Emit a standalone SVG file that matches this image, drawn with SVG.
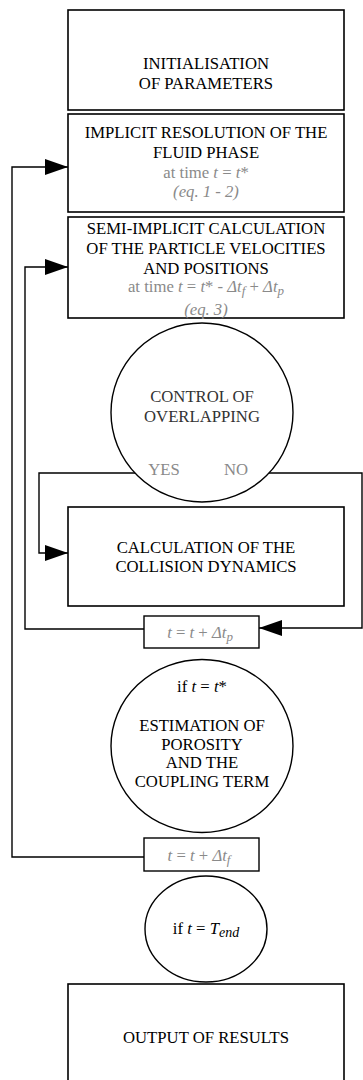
<svg xmlns="http://www.w3.org/2000/svg" width="363" height="1080" viewBox="0 0 363 1080">
<style>
.box{fill:#fff;stroke:#000;stroke-width:1.6}
.sbox{fill:#fff;stroke:#000;stroke-width:1.4}
.circ{fill:#fff;stroke:#000;stroke-width:1.4}
.t{font-family:"Liberation Serif","Times New Roman",serif;font-size:16.7px;fill:#000;text-anchor:middle}
.dk{fill:#333}
.g{fill:#8a8a8a}
.i{font-style:italic}
.con{fill:none;stroke:#000;stroke-width:1.4}
</style>
<defs>
<marker id="ah" markerUnits="userSpaceOnUse" markerWidth="24" markerHeight="18" refX="23" refY="8" orient="auto">
<path d="M0,0 L23,8 L0,16 Z" fill="#000"/>
</marker>
</defs>
<g id="connectors">
<path class="con" d="M144 857 H12 V167 H68" marker-end="url(#ah)"/>
<path class="con" d="M144 629 H25 V267 H68" marker-end="url(#ah)"/>
<path class="con" d="M136 473 H39 V553 H68" marker-end="url(#ah)"/>
<path class="con" d="M268 473 H362 V628 H259" marker-end="url(#ah)"/>
</g>
<g id="init">
<rect class="box" x="68" y="10" width="276" height="100"/>
<text class="t" x="206" y="69">INITIALISATION</text>
<text class="t" x="206" y="89">OF PARAMETERS</text>
</g>
<g id="fluid">
<rect class="box" x="68" y="114" width="276" height="98"/>
<text class="t" x="206" y="138">IMPLICIT RESOLUTION OF THE</text>
<text class="t" x="206" y="158">FLUID PHASE</text>
<text class="t g" x="206" y="178">at time <tspan class="i">t</tspan> = <tspan class="i">t</tspan>*</text>
<text class="t g i" x="206" y="197">(eq. 1 - 2)</text>
</g>
<g id="particles">
<rect class="box" x="68" y="217" width="276" height="101"/>
<text class="t" x="206" y="234">SEMI-IMPLICIT CALCULATION</text>
<text class="t" x="206" y="254">OF THE PARTICLE VELOCITIES</text>
<text class="t" x="206" y="274">AND POSITIONS</text>
<text class="t g" x="206" y="292">at time <tspan class="i">t</tspan> = <tspan class="i">t</tspan>* - <tspan class="i">Δt<tspan font-size="13" dy="3">f</tspan></tspan><tspan dy="-3"> + </tspan><tspan class="i">Δt<tspan font-size="13" dy="3">p</tspan></tspan></text>
<text class="t g i" x="206" y="315">(eq. 3)</text>
</g>
<g id="overlap">
<ellipse class="circ" cx="202" cy="412.5" rx="91" ry="89.5"/>
<text class="t dk" x="202" y="402">CONTROL OF</text>
<text class="t dk" x="202" y="422">OVERLAPPING</text>
<text class="t g" x="164" y="475">YES</text>
<text class="t g" x="236" y="475">NO</text>
</g>
<g id="collision">
<rect class="box" x="68" y="507" width="276" height="99"/>
<text class="t" x="206" y="553">CALCULATION OF THE</text>
<text class="t" x="206" y="572">COLLISION DYNAMICS</text>
</g>
<g id="step-p">
<rect class="sbox" x="144" y="616" width="115" height="32"/>
<text class="t g" x="200" y="638"><tspan class="i">t</tspan> = <tspan class="i">t</tspan> + <tspan class="i">Δt<tspan font-size="13" dy="3">p</tspan></tspan></text>
</g>
<g id="porosity">
<ellipse class="circ" cx="202" cy="746" rx="91" ry="86.5"/>
<text class="t" x="202" y="692">if <tspan class="i">t</tspan> = <tspan class="i">t</tspan>*</text>
<text class="t" x="202" y="731">ESTIMATION OF</text>
<text class="t" x="202" y="750">POROSITY</text>
<text class="t" x="202" y="768">AND THE</text>
<text class="t" x="202" y="787">COUPLING TERM</text>
</g>
<g id="step-f">
<rect class="sbox" x="144" y="838" width="115" height="33"/>
<text class="t g" x="199" y="861"><tspan class="i">t</tspan> = <tspan class="i">t</tspan> + <tspan class="i">Δt<tspan font-size="13" dy="3">f</tspan></tspan></text>
</g>
<g id="end">
<ellipse class="circ" cx="206" cy="929" rx="61" ry="53"/>
<text class="t" x="206" y="934">if <tspan class="i">t</tspan> = <tspan class="i">T<tspan font-size="14" dy="3">end</tspan></tspan></text>
</g>
<g id="output">
<rect class="box" x="68" y="984" width="276" height="110"/>
<text class="t" x="206" y="1043">OUTPUT OF RESULTS</text>
</g>
</svg>
